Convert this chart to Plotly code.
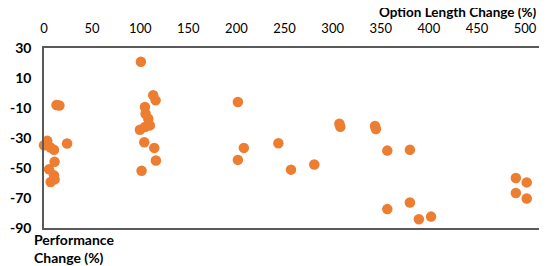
import plotly.graph_objects as go

# Option length change (%) vs performance change (%)
option_length_change = [
    13, 16, 24, 3.4, 0, 6.9, 10.4, 11, 5.2, 10.4, 6.9, 11,
    100.7, 113.5, 116, 104.9, 105.6, 108.4, 110, 99.7, 104.9, 104.2, 114.6, 116.3, 101.4,
    201.5, 207.7, 201.5, 243.6, 256.7, 280.9,
    307, 308, 344, 345, 356.8, 380.3, 356.8, 380.3, 389.6, 402.3,
    490.4, 501.7, 490.4, 501.7,
]
performance_change = [
    -8, -8.3, -33.7, -31.9, -34.8, -36.4, -37.9, -45.9, -50.9, -54.9, -59.3, -57.6,
    20.8, -1.5, -4.9, -9.3, -13.8, -17.2, -21.6, -24.5, -22.7, -32.8, -36.6, -45, -51.8,
    -6, -36.6, -44.6, -33.5, -51.1, -47.7,
    -20.5, -22.5, -22, -24, -38.4, -37.9, -77.4, -73, -84.2, -82.4,
    -56.7, -59.6, -66.7, -70.3,
]
x_ticks = [0, 50, 100, 150, 200, 250, 300, 350, 400, 450, 500]
y_ticks = [30, 10, -10, -30, -50, -70, -90]

FONT = "Lato"
AXIS_COLOR = "#595959"

fig = go.Figure(
    go.Scatter(
        x=option_length_change,
        y=performance_change,
        mode="markers",
        marker=dict(color="#ED7D31", size=10.5, line=dict(width=0)),
        cliponaxis=False,
    )
)

fig.update_layout(
    width=539,
    height=258,
    margin=dict(l=34, r=2, t=40, b=38),
    paper_bgcolor="white",
    plot_bgcolor="white",
    showlegend=False,
    font=dict(family=FONT, size=13, color="black"),
    xaxis=dict(
        side="top",
        range=[0, 520.7],
        tickvals=x_ticks,
        ticktext=[str(v) for v in x_ticks],
        showgrid=False,
        zeroline=False,
        showline=True,
        linecolor=AXIS_COLOR,
        linewidth=1.5,
        mirror=True,
        ticks="",
        ticklabelstandoff=8,
        tickfont=dict(family=FONT, size=13, color="black"),
    ),
    yaxis=dict(
        range=[-90, 30],
        tickvals=y_ticks,
        ticktext=[f"<b>{v}</b>" for v in y_ticks],
        showgrid=False,
        zeroline=False,
        showline=True,
        linecolor=AXIS_COLOR,
        linewidth=1.5,
        ticks="",
        ticklabelstandoff=8,
        tickfont=dict(family=FONT, size=14, color="black"),
    ),
    annotations=[
        dict(
            text="<b>Option Length Change (%)</b>",
            xref="paper", yref="paper",
            x=0.988, y=1.2,
            xanchor="right", yanchor="middle",
            showarrow=False,
            font=dict(family=FONT, size=13.5, color="black"),
        ),
        dict(
            text="<b>Performance<br>Change (%)</b>",
            xref="paper", yref="paper",
            x=-0.024, y=-0.005,
            xanchor="left", yanchor="top",
            align="left",
            showarrow=False,
            font=dict(family=FONT, size=14, color="black"),
        ),
    ],
)

fig.write_html("out.html")
